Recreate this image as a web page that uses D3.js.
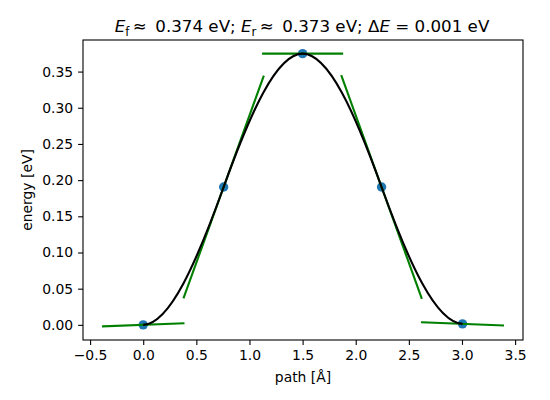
<!DOCTYPE html>
<html>
<head>
<meta charset="utf-8">
<script src="https://cdn.jsdelivr.net/npm/d3@7"></script>
<style>
  body { margin: 0; background: #fff; }
  svg { display: block; font-family: "DejaVu Sans", sans-serif; }
</style>
</head>
<body>
<div id="chart"></div>
<script>
// NEB band: images along the path, their energies and the slope (-F·t) at each image
const pathPos = [0, 0.757, 1.5, 2.243, 3.005];
const energies = [0, 0.1905, 0.3748, 0.1905, 0.0014];
const slopes = [0.0055, 0.407, 0, -0.407, -0.0059];
const xTicks = [-0.5, 0, 0.5, 1, 1.5, 2, 2.5, 3, 3.5];
const yTicks = [0, 0.05, 0.1, 0.15, 0.2, 0.25, 0.3, 0.35];

const W = 550, H = 400;
const M = { left: 83, right: 27, top: 40, bottom: 60 };

// tangent segments: half-width as in the band tool (0.5 spacing at ends, 0.25 span inside)
const n = pathPos.length;
const tangents = pathPos.map((s, i) => {
  const d = i === 0 ? 0.5 * (pathPos[1] - pathPos[0])
    : i === n - 1 ? 0.5 * (pathPos[n - 1] - pathPos[n - 2])
    : 0.25 * (pathPos[i + 1] - pathPos[i - 1]);
  return [[s - d, energies[i] - slopes[i] * d], [s + d, energies[i] + slopes[i] * d]];
});

// autoscale with 5% margins, like matplotlib
function padded(vals) {
  const [a, b] = d3.extent(vals);
  const m = (b - a) * 0.05;
  return [a - m, b + m];
}
const allX = tangents.flat().map(p => p[0]).concat(pathPos);
const allY = tangents.flat().map(p => p[1]).concat(energies);

const x = d3.scaleLinear().domain(padded(allX)).range([M.left, W - M.right]);
const y = d3.scaleLinear().domain(padded(allY)).range([H - M.bottom, M.top]);

const svg = d3.select('#chart').append('svg').attr('width', W).attr('height', H);

const plot = svg.append('g');

// points
plot.selectAll('circle.img').data(pathPos).enter().append('circle')
  .attr('class', 'img')
  .attr('cx', d => x(d))
  .attr('cy', (d, i) => y(energies[i]))
  .attr('r', 4.7)
  .attr('fill', '#1f77b4');

// tangent lines
plot.selectAll('line.tan').data(tangents).enter().append('line')
  .attr('class', 'tan')
  .attr('x1', d => x(d[0][0])).attr('y1', d => y(d[0][1]))
  .attr('x2', d => x(d[1][0])).attr('y2', d => y(d[1][1]))
  .attr('stroke', '#008000').attr('stroke-width', 2.1)
  .attr('stroke-linecap', 'square');

// cubic hermite fit between images, drawn as bezier segments
const fit = d3.path();
fit.moveTo(x(pathPos[0]), y(energies[0]));
for (let i = 0; i < n - 1; i++) {
  const h = pathPos[i + 1] - pathPos[i];
  fit.bezierCurveTo(
    x(pathPos[i] + h / 3), y(energies[i] + slopes[i] * h / 3),
    x(pathPos[i + 1] - h / 3), y(energies[i + 1] - slopes[i + 1] * h / 3),
    x(pathPos[i + 1]), y(energies[i + 1]));
}
plot.append('path').attr('d', fit.toString())
  .attr('fill', 'none').attr('stroke', '#000').attr('stroke-width', 2.1);

// axes
const fmt = d => d3.format('.1f')(d).replace('-', '\u2212');
const xAxis = svg.append('g').attr('transform', `translate(0,${H - M.bottom})`)
  .call(d3.axisBottom(x).tickValues(xTicks).tickFormat(fmt).tickSize(4.9).tickPadding(4.9));
const yAxis = svg.append('g').attr('transform', `translate(${M.left},0)`)
  .call(d3.axisLeft(y).tickValues(yTicks).tickFormat(d3.format('.2f')).tickSize(4.9).tickPadding(4.9));
[xAxis, yAxis].forEach(g => {
  g.select('.domain').remove();
  g.selectAll('line').attr('stroke', '#000').attr('stroke-width', 1.1);
  g.selectAll('text').attr('font-size', 13.9).attr('fill', '#000')
    .attr('font-family', '"DejaVu Sans", sans-serif');
});

// frame
svg.append('rect')
  .attr('x', M.left).attr('y', M.top)
  .attr('width', W - M.left - M.right).attr('height', H - M.top - M.bottom)
  .attr('fill', 'none').attr('stroke', '#000').attr('stroke-width', 1.1);

// labels
svg.append('text').attr('x', (M.left + W - M.right) / 2).attr('y', 382)
  .attr('text-anchor', 'middle').attr('font-size', 13.9).text('path [Å]');
svg.append('text').attr('transform', `translate(32,${(M.top + H - M.bottom) / 2}) rotate(-90)`)
  .attr('text-anchor', 'middle').attr('font-size', 13.9).text('energy [eV]');

// title with mathtext-like pieces
const title = svg.append('text').attr('x', (M.left + W - M.right) / 2 - 1).attr('y', 32)
  .attr('text-anchor', 'middle').attr('font-size', 16.7);
const parts = [
  { t: 'E', it: true }, { t: 'f', sub: true }, { t: '\u2009\u2248\u2009 0.374 eV; ' },
  { t: 'E', it: true }, { t: 'r', sub: true }, { t: '\u2009\u2248\u2009 0.373 eV; \u0394' },
  { t: 'E', it: true }, { t: ' = 0.001 eV' }
];
let lowered = false;
parts.forEach(p => {
  const ts = title.append('tspan').text(p.t);
  if (p.it) ts.attr('font-style', 'oblique');
  if (p.sub) { ts.attr('font-size', 11.7).attr('dy', 3.5); lowered = true; }
  else if (lowered) { ts.attr('dy', -3.5); lowered = false; }
});
</script>
</body>
</html>
